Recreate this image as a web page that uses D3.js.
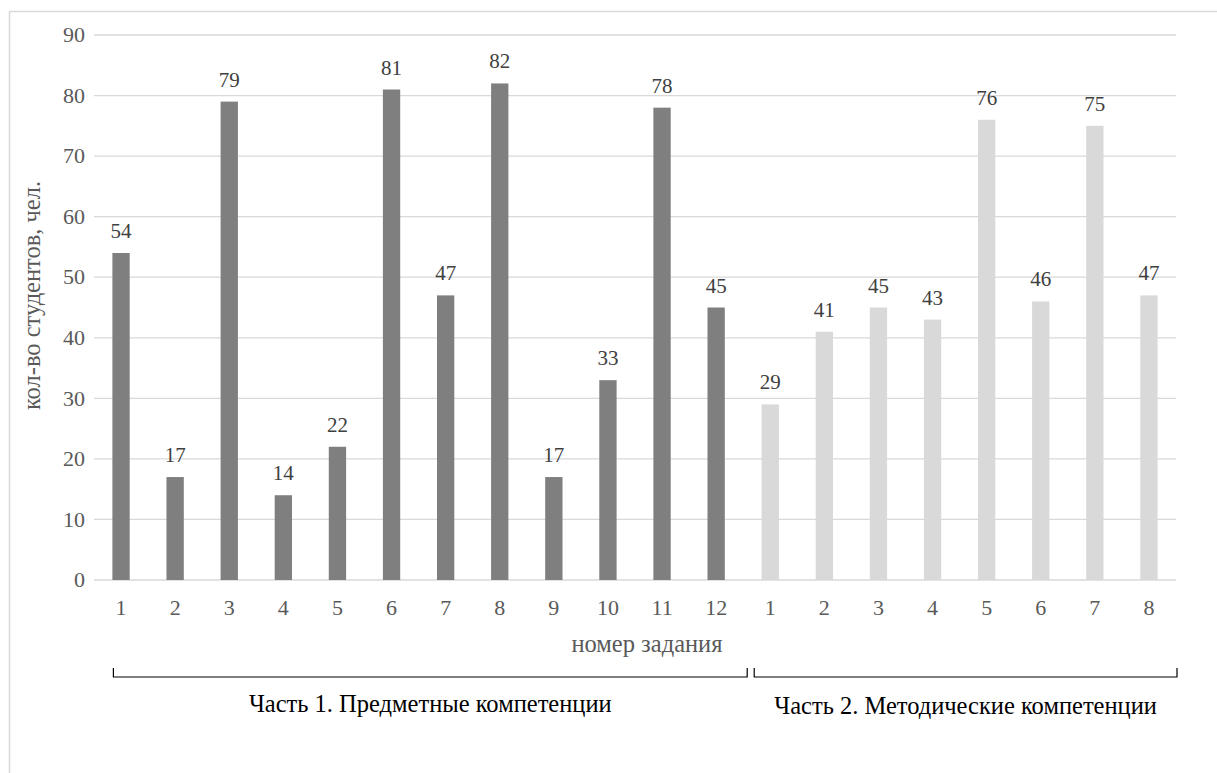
<!DOCTYPE html>
<html>
<head>
<meta charset="utf-8">
<script src="https://cdn.jsdelivr.net/npm/d3@7"></script>
<style>
  body { margin: 0; background: #fff; }
  svg text { font-family: "Liberation Serif", "Times New Roman", Tinos, "DejaVu Serif", serif; }
</style>
</head>
<body>
<div id="chart-area"></div>
<script>
// data
var part1Tasks = ["1","2","3","4","5","6","7","8","9","10","11","12"];
var part1Values = [54, 17, 79, 14, 22, 81, 47, 82, 17, 33, 78, 45];
var part2Tasks = ["1","2","3","4","5","6","7","8"];
var part2Values = [29, 41, 45, 43, 76, 46, 75, 47];
var yTicks = [0, 10, 20, 30, 40, 50, 60, 70, 80, 90];
var groupLabels = ["Часть 1. Предметные компетенции", "Часть 2. Методические компетенции"];

var width = 1217;
var height = 773;
var margin = {top: 35, left: 94, right: 41, bottom: 193};
var plotW = width - margin.left - margin.right;
var plotH = height - margin.top - margin.bottom;

var svg = d3.select('#chart-area')
    .append('svg')
        .attr('width', width)
        .attr('height', height);

// outer frame (runs off the right and bottom of the picture)
svg.append("path")
    .attr("d", "M9.5," + (height + 5) + "V11.5H" + (width + 5))
    .attr("fill", "none")
    .attr("stroke", "#d9d9d9")
    .attr("stroke-width", 1.5);

var g = svg.append("g")
    .attr("transform", "translate(" + margin.left + ", " + margin.top + ")");

var data = part1Tasks.map((t, i) => ({key: "a" + i, label: t, value: part1Values[i], part: 0}))
    .concat(part2Tasks.map((t, i) => ({key: "b" + i, label: t, value: part2Values[i], part: 1})));

var x = d3.scaleBand().domain(data.map(d => d.key)).range([0, plotW]).paddingInner(0.68).paddingOuter(0.34);
var y = d3.scaleLinear().domain([0, 90]).range([plotH, 0]);
var colors = ["#7f7f7f", "#d9d9d9"];

// gridlines
g.selectAll(".grid")
    .data(yTicks)
    .enter().append("line")
        .attr("x1", 0)
        .attr("x2", plotW)
        .attr("y1", d => y(d))
        .attr("y2", d => y(d))
        .attr("stroke", "#d9d9d9")
        .attr("stroke-width", 1.3);

// y tick labels
g.selectAll(".ylab")
    .data(yTicks)
    .enter().append("text")
        .attr("x", -9)
        .attr("y", d => y(d))
        .attr("dy", "0.33em")
        .attr("text-anchor", "end")
        .attr("font-size", "22px")
        .style("fill", "#595959")
        .text(d => d);

// bars
g.selectAll("rect")
    .data(data)
    .enter().append("rect")
        .attr("x", d => x(d.key))
        .attr("y", d => y(d.value))
        .attr("width", x.bandwidth())
        .attr("height", d => plotH - y(d.value))
        .attr("fill", d => colors[d.part]);

// value labels
g.selectAll(".val")
    .data(data)
    .enter().append("text")
        .attr("x", d => x(d.key) + x.bandwidth() / 2)
        .attr("y", d => y(d.value) - 15)
        .attr("text-anchor", "middle")
        .attr("font-size", "21px")
        .style("fill", "#404040")
        .text(d => d.value);

// x tick labels
g.selectAll(".xlab")
    .data(data)
    .enter().append("text")
        .attr("x", d => x(d.key) + x.bandwidth() / 2)
        .attr("y", plotH + 35)
        .attr("text-anchor", "middle")
        .attr("font-size", "22px")
        .style("fill", "#595959")
        .text(d => d.label);

// axis titles
g.append("text")
    .attr("x", plotW / 2 + 12)
    .attr("y", plotH + 72)
    .attr("text-anchor", "middle")
    .attr("font-size", "24.5px")
    .style("fill", "#595959")
    .text("номер задания");

g.append("text")
    .attr("transform", "rotate(-90)")
    .attr("x", -(plotH / 2 - 12))
    .attr("y", -54)
    .attr("text-anchor", "middle")
    .attr("font-size", "24.5px")
    .style("fill", "#595959")
    .text("кол-во студентов, чел.");

// group brackets
var step = x.step();
var split = x("b0") - x.paddingInner() * step / 2;
var brackets = [
    {x0: x("a0") + 1, x1: split + 4},
    {x0: split + 11, x1: plotW + 1}
];
var by = plotH + 97;
brackets.forEach((b, i) => {
    g.append("path")
        .attr("d", "M" + b.x0 + "," + (by - 9) + "V" + by + "H" + b.x1 + "V" + (by - 9))
        .attr("fill", "none")
        .attr("stroke", "#000")
        .attr("stroke-width", 1.2);
    g.append("text")
        .attr("x", (b.x0 + b.x1) / 2)
        .attr("y", by + 35 + i * 2)
        .attr("text-anchor", "middle")
        .attr("font-size", "24.5px")
        .style("fill", "#000")
        .text(groupLabels[i]);
});
</script>
</body>
</html>
